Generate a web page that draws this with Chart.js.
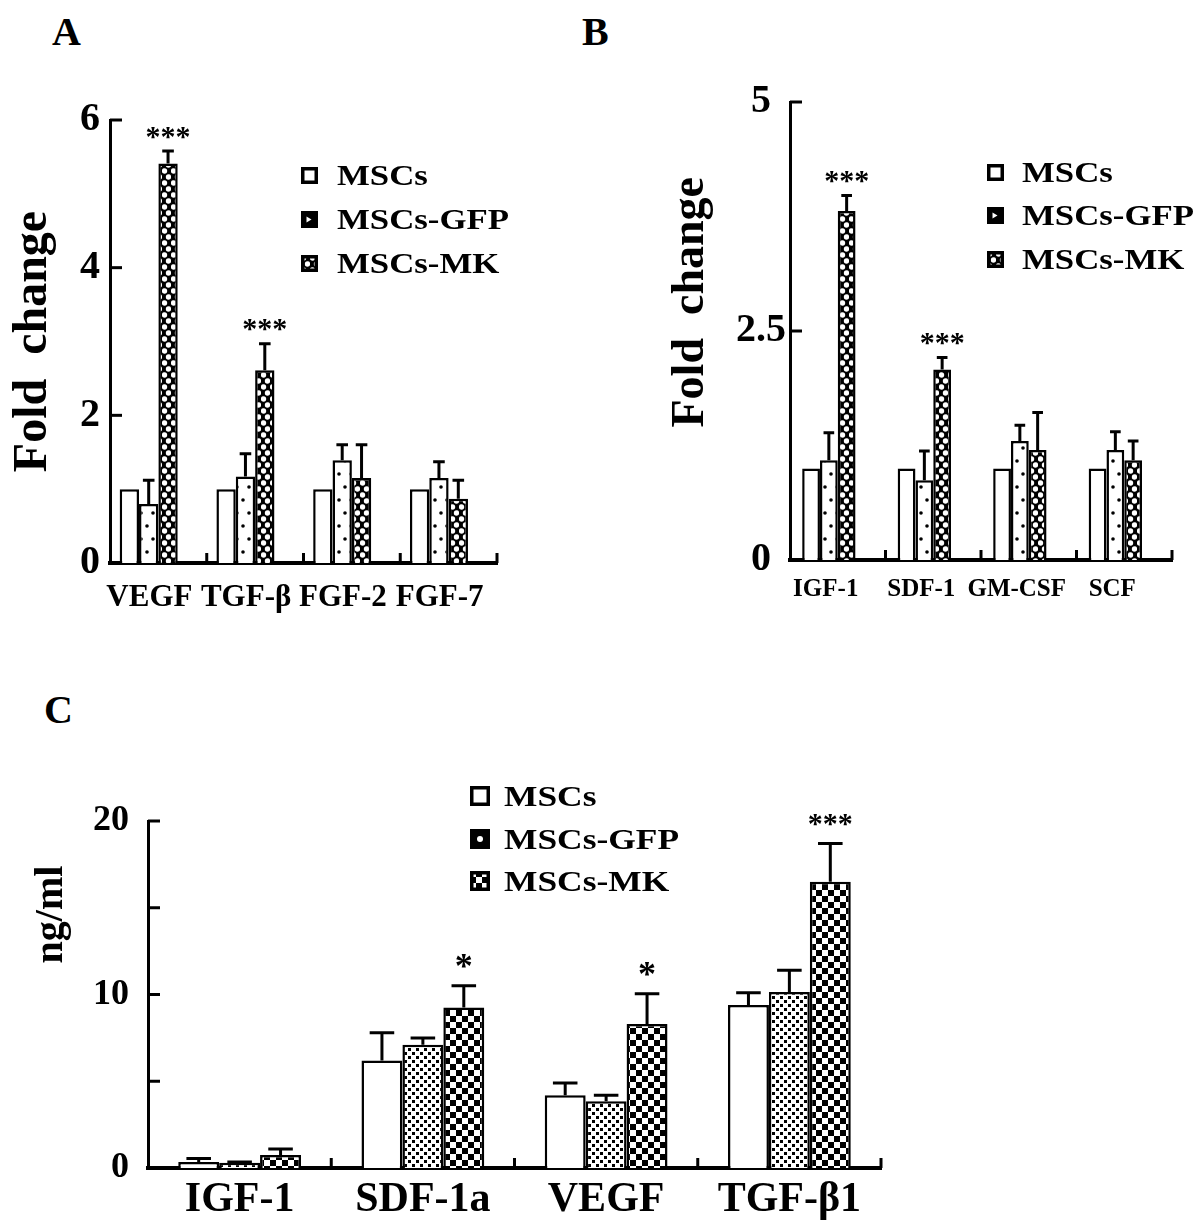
<!DOCTYPE html>
<html><head><meta charset="utf-8">
<script src="https://cdn.jsdelivr.net/npm/chart.js@4.4.1/dist/chart.umd.min.js"></script>
<style>
html,body{margin:0;padding:0;background:#fff;}
#wrap{position:relative;width:1200px;height:1229px;overflow:hidden;background:#fff;}
canvas.ch{position:absolute;}
.plabel{position:absolute;font-weight:bold;font-size:40px;font-family:"Liberation Serif",serif;line-height:1;color:#000;}
.leg{position:absolute;left:0;top:0;}
.leg .txt{position:absolute;font-weight:bold;font-family:"Liberation Serif",serif;line-height:1;transform-origin:0 50%;color:#000;white-space:nowrap;}
</style></head>
<body><div id="wrap">
<div class="plabel" style="left:52px;top:12px">A</div>
<div class="plabel" style="left:582px;top:12px">B</div>
<div class="plabel" style="left:44px;top:690px">C</div>
<canvas id="cA" class="ch" width="560" height="640" style="left:0;top:0"></canvas>
<canvas id="cB" class="ch" width="540" height="640" style="left:660px;top:0"></canvas>
<canvas id="cC" class="ch" width="1000" height="549" style="left:0;top:680px"></canvas>
<div id="legA" class="leg"></div>
<div id="legB" class="leg"></div>
<div id="legC" class="leg"></div>
</div>
<script>
// ---------------- data ----------------
const seriesNames = ['MSCs', 'MSCs-GFP', 'MSCs-MK'];

const catsA = ['VEGF', 'TGF-β', 'FGF-2', 'FGF-7'];
const mscA = [1.0, 1.0, 1.0, 1.0];
const gfpA = [0.80, 1.17, 1.39, 1.15];
const mkA = [5.41, 2.61, 1.15, 0.87];
const gfpAErr = [0.32, 0.31, 0.21, 0.22];
const mkAErr = [0.17, 0.36, 0.45, 0.25];
const sigA = ['***', '***', '', ''];
const ticksA = [0, 2, 4, 6];
const tickLabelsA = ['0', '2', '4', '6'];

const catsB = ['IGF-1', 'SDF-1', 'GM-CSF', 'SCF'];
const mscB = [1.0, 1.0, 1.0, 1.0];
const gfpB = [1.09, 0.87, 1.30, 1.20];
const mkB = [3.81, 2.08, 1.20, 1.09];
const gfpBErr = [0.30, 0.32, 0.17, 0.20];
const mkBErr = [0.17, 0.13, 0.41, 0.21];
const sigB = ['***', '***', '', ''];
const ticksB = [0, 2.5, 5];
const tickLabelsB = ['0', '2.5', '5'];

const catsC = ['IGF-1', 'SDF-1a', 'VEGF', 'TGF-β1'];
const mscC = [0.35, 6.2, 4.2, 9.4];
const gfpC = [0.3, 7.1, 3.85, 10.15];
const mkC = [0.75, 9.25, 8.3, 16.5];
const mscCErr = [0.2, 1.6, 0.7, 0.7];
const gfpCErr = [0.05, 0.4, 0.35, 1.25];
const mkCErr = [0.35, 1.25, 1.75, 2.2];
const sigC = ['', '*', '*', '***'];
const ticksC = [0, 5, 10, 15, 20];
const tickLabelsC = ['0', '', '10', '', '20'];

// ---------------- patterns ----------------
function makePattern(kind) {
  const c = document.createElement('canvas'), g = c.getContext('2d');
  if (kind === 'dots') {
    c.width = 12; c.height = 26;
    g.fillStyle = '#fff'; g.fillRect(0, 0, 12, 26);
    g.fillStyle = '#000';
    g.beginPath(); g.arc(3, 6, 1.8, 0, Math.PI * 2); g.fill();
    g.beginPath(); g.arc(9, 19, 1.8, 0, Math.PI * 2); g.fill();
  } else if (kind === 'wave') {
    c.width = 9; c.height = 12;
    g.fillStyle = '#000'; g.fillRect(0, 0, 9, 12);
    g.fillStyle = '#fff';
    g.beginPath(); g.arc(2.5, 3, 2.7, 0, Math.PI * 2); g.fill();
    g.beginPath(); g.arc(6.5, 9, 2.7, 0, Math.PI * 2); g.fill();
  } else if (kind === 'lattice') {
    c.width = 8; c.height = 8;
    g.fillStyle = '#fff'; g.fillRect(0, 0, 8, 8);
    g.fillStyle = '#000';
    g.fillRect(0, 0, 3, 3); g.fillRect(4, 4, 3, 3);
  } else if (kind === 'checker') {
    c.width = 12; c.height = 12;
    g.fillStyle = '#000'; g.fillRect(0, 0, 12, 12);
    g.fillStyle = '#fff';
    g.fillRect(0, 0, 6, 6); g.fillRect(6, 6, 6, 6);
  }
  const ctx = document.createElement('canvas').getContext('2d');
  return ctx.createPattern(c, 'repeat');
}
const P = {
  dots: makePattern('dots'), wave: makePattern('wave'),
  lattice: makePattern('lattice'), checker: makePattern('checker')
};

// ---------------- plugin: error bars, stars, inward ticks ----------------
const deco = {
  id: 'deco',
  afterDatasetsDraw(chart, args, o) {
    const ctx = chart.ctx, ys = chart.scales.y;
    ctx.save();
    ctx.strokeStyle = '#000'; ctx.lineWidth = 3; ctx.lineCap = 'butt';
    chart.data.datasets.forEach((ds, i) => {
      if (!ds.errs) return;
      const meta = chart.getDatasetMeta(i);
      meta.data.forEach((bar, j) => {
        const e = ds.errs[j];
        if (!e) return;
        const top = ys.getPixelForValue(ds.data[j] + e);
        const hw = bar.width * 0.3;
        ctx.beginPath();
        ctx.moveTo(bar.x, bar.y); ctx.lineTo(bar.x, top);
        ctx.moveTo(bar.x - hw, top); ctx.lineTo(bar.x + hw, top);
        ctx.stroke();
      });
    });
    // significance marks over the MK series
    const mkIdx = 2, ds = chart.data.datasets[mkIdx], meta = chart.getDatasetMeta(mkIdx);
    ctx.fillStyle = '#000'; ctx.textAlign = 'center'; ctx.textBaseline = 'alphabetic';
    (o.sig || []).forEach((s, j) => {
      if (!s) return;
      const bar = meta.data[j];
      const top = ys.getPixelForValue(ds.data[j] + (ds.errs ? ds.errs[j] : 0));
      const size = s.length === 1 ? o.starSize * 1.2 : o.starSize;
      ctx.font = 'bold ' + size + 'px "Liberation Serif", serif';
      const cy = top - o.starGap;
      ctx.fillText(s, bar.x, cy + size * 0.45);
    });
    ctx.restore();
  },
  afterDraw(chart, args, o) {
    const ctx = chart.ctx, ys = chart.scales.y, xs = chart.scales.x, a = chart.chartArea;
    ctx.save();
    ctx.strokeStyle = '#000'; ctx.lineWidth = 3;
    ys.ticks.forEach(t => {
      const py = ys.getPixelForValue(t.value);
      if (t.value === ys.min) return;
      ctx.beginPath(); ctx.moveTo(a.left, py); ctx.lineTo(a.left + o.tickLen, py); ctx.stroke();
    });
    const n = chart.data.labels.length;
    const w = xs.getPixelForValue(1) - xs.getPixelForValue(0);
    for (let i = 1; i <= n; i++) {
      const px = xs.getPixelForValue(i) - w / 2;
      ctx.beginPath(); ctx.moveTo(px, a.bottom); ctx.lineTo(px, a.bottom - o.xTickLen); ctx.stroke();
    }
    ctx.restore();
  }
};

const FONT = '"Liberation Serif", "Times New Roman", serif';

function makeChart(id, cfg) {
  const datasets = cfg.series.map((s, i) => ({
    label: seriesNames[i], data: s.data, errs: s.errs,
    backgroundColor: s.fill, borderColor: '#000', borderWidth: 2.5, borderSkipped: 'bottom'
  }));
  if (cfg.spacer) datasets.push({ label: '', data: cfg.cats.map(() => null), backgroundColor: 'rgba(0,0,0,0)', borderWidth: 0 });
  return new Chart(document.getElementById(id), {
    type: 'bar',
    data: { labels: cfg.cats, datasets },
    options: {
      responsive: false, animation: false, events: [],
      layout: { padding: { top: cfg.top, right: cfg.right, left: 0, bottom: 0 } },
      datasets: { bar: { barPercentage: 1.0, categoryPercentage: cfg.catPct } },
      plugins: {
        legend: { display: false }, tooltip: { enabled: false },
        deco: { sig: cfg.sig, starGap: cfg.starGap, starSize: cfg.starSize, tickLen: 12, xTickLen: 10 }
      },
      scales: {
        x: {
          grid: { display: false, drawTicks: false },
          border: { display: true, color: '#000', width: 4 },
          ticks: { color: '#000', font: { family: FONT, size: cfg.xFont, weight: 'bold' }, padding: cfg.xPad,
                   labelOffset: cfg.labelOffset, maxRotation: 0, minRotation: 0, autoSkip: false },
          afterFit: s => { s.height = cfg.xH; }
        },
        y: {
          min: cfg.ticks[0], max: cfg.ticks[cfg.ticks.length - 1],
          afterBuildTicks: s => { s.ticks = cfg.ticks.map(v => ({ value: v })); },
          grid: { display: false, drawTicks: false },
          border: { display: true, color: '#000', width: 3 },
          ticks: { color: '#000', font: { family: FONT, size: cfg.yFont, weight: 'bold' }, padding: cfg.yPad,
                   crossAlign: cfg.crossAlign || 'near',
                   callback: v => cfg.tickLabels[cfg.ticks.indexOf(v)] },
          title: { display: true, text: cfg.title, color: '#000',
                   font: { family: FONT, size: cfg.titleFont, weight: 'bold' },
                   padding: { top: cfg.titlePad, bottom: 0 } },
          afterFit: s => { s.width = cfg.yW; }
        }
      }
    },
    plugins: [deco]
  });
}

makeChart('cA', {
  cats: catsA, spacer: true, catPct: 0.8,
  series: [{ data: mscA, fill: '#fff' }, { data: gfpA, errs: gfpAErr, fill: P.dots }, { data: mkA, errs: mkAErr, fill: P.wave }],
  sig: sigA, starGap: 19, starSize: 30,
  ticks: ticksA, tickLabels: tickLabelsA,
  top: 120, right: 63, yW: 110, xH: 77,
  xFont: 31, xPad: 16, labelOffset: -9, yFont: 40, yPad: 10,
  title: 'Fold  change', titleFont: 48, titlePad: 5
});

makeChart('cB', {
  cats: catsB, spacer: true, catPct: 0.745,
  series: [{ data: mscB, fill: '#fff' }, { data: gfpB, errs: gfpBErr, fill: P.dots }, { data: mkB, errs: mkBErr, fill: P.wave }],
  sig: sigB, starGap: 19, starSize: 30,
  ticks: ticksB, tickLabels: tickLabelsB,
  top: 102, right: 28, yW: 130, xH: 80,
  xFont: 25, xPad: 15, labelOffset: -12, yFont: 40, yPad: 4, crossAlign: 'center',
  title: '\u2003 Fold  change', titleFont: 46, titlePad: 4
});

makeChart('cC', {
  cats: catsC, spacer: false, catPct: 0.67,
  series: [{ data: mscC, errs: mscCErr, fill: '#fff' }, { data: gfpC, errs: gfpCErr, fill: P.lattice }, { data: mkC, errs: mkCErr, fill: P.checker }],
  sig: sigC, starGap: 24, starSize: 30,
  ticks: ticksC, tickLabels: tickLabelsC,
  top: 141, right: 119, yW: 148, xH: 61,
  xFont: 42, xPad: 7, labelOffset: 0, yFont: 36, yPad: 19,
  title: '\u2003\u2003\u2003\u2003ng/ml', titleFont: 40, titlePad: 28
});

// ---------------- legends ----------------
function drawSwatch(g, kind, s) {
  g.fillStyle = '#fff'; g.fillRect(0, 0, s, s);
  g.fillStyle = '#000';
  if (kind === 'plain') {
  } else if (kind === 'gfpAB') {
    g.fillRect(0, 0, s, s); g.fillStyle = '#fff';
    g.beginPath(); g.moveTo(s / 2 - 3, s / 2 - 3); g.lineTo(s / 2 + 2, s / 2); g.lineTo(s / 2 - 3, s / 2 + 3); g.fill();
  } else if (kind === 'mkAB') {
    g.fillStyle = P.wave; g.fillRect(0, 0, s, s);
  } else if (kind === 'gfpC') {
    g.fillRect(0, 0, s, s); g.fillStyle = '#fff';
    g.beginPath(); g.arc(s / 2, s / 2, 3, 0, Math.PI * 2); g.fill();
  } else if (kind === 'mkC') {
    g.fillStyle = P.checker; g.fillRect(0, 0, s, s);
  }
  g.strokeStyle = '#000'; g.lineWidth = 3.5;
  g.strokeRect(1.75, 1.75, s - 3.5, s - 3.5);
}
function legend(id, swLeft, textLeft, centers, size, sx, kinds, sw) {
  const el = document.getElementById(id);
  centers.forEach((cy, i) => {
    const c = document.createElement('canvas');
    c.width = sw; c.height = sw;
    c.style.cssText = 'position:absolute;left:' + swLeft + 'px;top:' + (cy - sw / 2) + 'px';
    drawSwatch(c.getContext('2d'), kinds[i], sw);
    el.appendChild(c);
    const t = document.createElement('div');
    t.className = 'txt';
    t.textContent = seriesNames[i];
    t.style.left = textLeft + 'px';
    t.style.top = (cy - size * 0.5) + 'px';
    t.style.fontSize = size + 'px';
    t.style.transform = 'scaleX(' + sx + ')';
    el.appendChild(t);
  });
}
legend('legA', 301, 337, [175, 219, 263], 29, 1.2, ['plain', 'gfpAB', 'mkAB'], 17);
legend('legB', 987, 1022, [172, 215, 259], 29, 1.2, ['plain', 'gfpAB', 'mkAB'], 17);
legend('legC', 470, 504, [796, 839, 881], 30, 1.18, ['plain', 'gfpC', 'mkC'], 20);
</script>
</body></html>
